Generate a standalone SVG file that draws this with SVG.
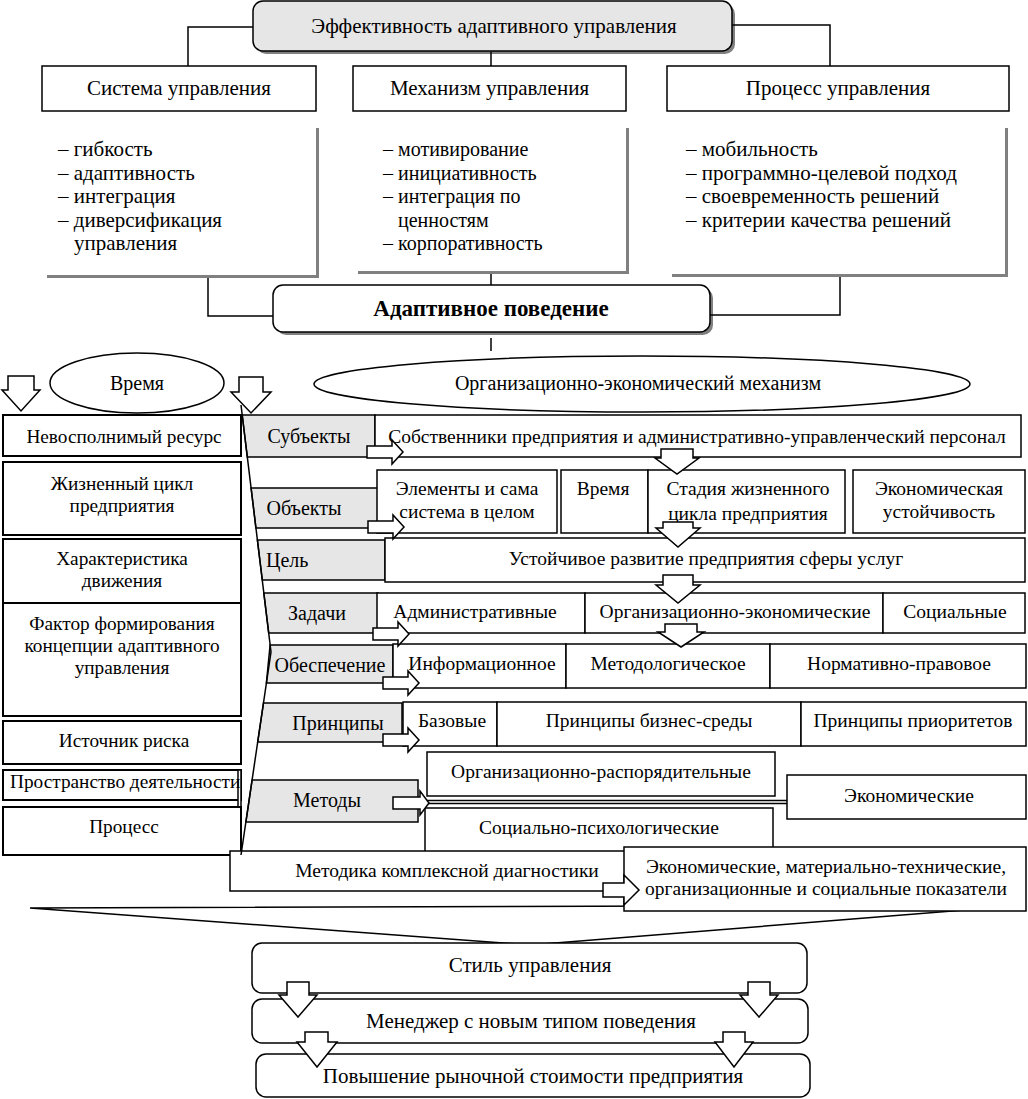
<svg xmlns="http://www.w3.org/2000/svg" width="1028" height="1099" viewBox="0 0 1028 1099">
<style>
.bx{fill:#fff;stroke:#000;stroke-width:1.5}
.bk{fill:#fff;stroke:#000;stroke-width:2}
.gr{fill:#e6e6e6;stroke:#000;stroke-width:1.5}
.sh{fill:#808080}
.ln{fill:none;stroke:#000;stroke-width:1.5}
.ar{fill:#fff;stroke:#000;stroke-width:1.5;stroke-linejoin:miter}
text{font-family:'Liberation Serif','Times New Roman',serif;fill:#000}
.c{text-anchor:middle}
.f21{font-size:21px}
.f20{font-size:20px}
.f19{font-size:19.5px}
.f18{font-size:19.3px}
.fl{font-size:21px}
.b{font-weight:bold;font-size:23px}
</style>
<rect width="1028" height="1099" fill="#fff"/>

<g id="funnel"><polygon class="bx" points="30,908 1026,905 530,945"/></g>

<g id="title">
<rect class="sh" x="256" y="4" width="479" height="50" rx="10"/>
<rect x="253" y="1" width="479" height="50" rx="10" fill="#e6e6e6" stroke="#000" stroke-width="1.5"/>
<text class="c f21" x="494" y="33">Эффективность адаптивного управления</text>
</g>
<g id="sys"><rect class="bx" x="42" y="66" width="274" height="45"/><text class="c f21" x="179" y="95">Система управления</text></g>
<g id="mech"><rect class="bx" x="353" y="66" width="273" height="45"/><text class="c f21" x="489.5" y="95">Механизм управления</text></g>
<g id="proc"><rect class="bx" x="667" y="66" width="342" height="45"/><text class="c f21" x="838" y="95">Процесс управления</text></g>

<g id="list-sys">
<rect class="sh" x="47" y="128" width="272" height="150"/>
<rect x="44" y="125" width="272" height="150" fill="#fff"/>
<text class="fl" x="58" y="156">– гибкость</text>
<text class="fl" x="58" y="180">– адаптивность</text>
<text class="fl" x="58" y="203">– интеграция</text>
<text class="fl" x="58" y="227">– диверсификация</text>
<text class="fl" x="74" y="250">управления</text>
</g>
<g id="list-mech">
<rect class="sh" x="358" y="128" width="271" height="146"/>
<rect x="355" y="125" width="271" height="146" fill="#fff"/>
<text class="f20" x="383" y="156">– мотивирование</text>
<text class="f20" x="383" y="180">– инициативность</text>
<text class="f20" x="383" y="203">– интеграция по</text>
<text class="f20" x="398" y="227">ценностям</text>
<text class="f20" x="383" y="250">– корпоративность</text>
</g>
<g id="list-proc">
<rect class="sh" x="672" y="128" width="336" height="149"/>
<rect x="669" y="125" width="336" height="149" fill="#fff"/>
<text class="fl" x="686" y="156">– мобильность</text>
<text class="fl" x="686" y="180">– программно-целевой подход</text>
<text class="fl" x="686" y="203">– своевременность решений</text>
<text class="fl" x="686" y="227">– критерии качества решений</text>
</g>

<g id="adaptive">
<rect class="sh" x="276" y="288" width="437" height="47" rx="10"/>
<rect class="bx" x="273" y="285" width="437" height="47" rx="10"/>
<text class="c b" x="491" y="316">Адаптивное поведение</text>
</g>

<g id="time"><ellipse class="bx" cx="137" cy="383" rx="87" ry="30"/><text class="c f20" x="137" y="390">Время</text></g>
<g id="oem"><ellipse class="bx" cx="642" cy="384" rx="328" ry="28"/><text class="c f20" x="638" y="390">Организационно-экономический механизм</text></g>

<g id="left-col">
<g id="l1"><rect class="bk" x="3" y="415" width="238" height="41"/><text class="c f18" x="124" y="443">Невосполнимый ресурс</text></g>
<g id="l2"><rect class="bk" x="3" y="462" width="238" height="73"/><text class="c f18" x="122" y="490">Жизненный цикл</text><text class="c f18" x="122" y="512">предприятия</text></g>
<g id="l3"><rect class="bk" x="3" y="539" width="238" height="64"/><text class="c f18" x="122" y="565">Характеристика</text><text class="c f18" x="122" y="587">движения</text></g>
<g id="l4"><rect class="bk" x="3" y="603" width="238" height="113"/><text class="c f18" x="122" y="630">Фактор формирования</text><text class="c f18" x="122" y="652">концепции адаптивного</text><text class="c f18" x="122" y="674">управления</text></g>
<g id="l5"><rect class="bk" x="3" y="721" width="238" height="43"/><text class="c f18" x="124" y="747">Источник риска</text></g>
<g id="l6"><rect class="bk" x="3" y="770" width="238" height="30"/><rect class="bx" x="238" y="770" width="3" height="52"/><text class="f18" x="10" y="788">Пространство деятельности</text></g>
<g id="l7"><rect class="bk" x="3" y="807" width="238" height="48"/><text class="c f18" x="124" y="833">Процесс</text></g>
</g>

<g id="labels">
<g id="g-subj"><polygon class="gr" points="242.2,415 375,415 375,457 247.3,457"/><text class="c f20" x="309" y="443">Субъекты</text></g>
<g id="g-obj"><polygon class="gr" points="251.1,488 378,488 378,528 255.9,528"/><text class="c f20" x="304" y="515">Объекты</text></g>
<g id="g-goal"><polygon class="gr" points="257.4,540 385,540 385,580 262.3,580"/><text class="f20" x="266" y="567">Цель</text></g>
<g id="g-task"><polygon class="gr" points="263.8,593 378,593 378,633 268.7,633"/><text class="c f20" x="317" y="620">Задачи</text></g>
<g id="g-supp"><polygon class="gr" points="270.1,645 393,645 393,683 266.4,683"/><text class="c f20" x="330" y="672">Обеспечение</text></g>
<g id="g-prin"><polygon class="gr" points="263.5,703 402,703 402,742 257.7,742"/><text class="c f20" x="338" y="730">Принципы</text></g>
<g id="g-meth"><polygon class="gr" points="252.1,780 418,780 418,822 245.9,822"/><text class="c f20" x="327" y="807">Методы</text></g>
</g>

<g id="right-boxes">
<g id="owners"><rect class="bx" x="375" y="415" width="646" height="42"/><text class="c f19" x="697" y="443">Собственники предприятия и административно-управленческий персонал</text></g>
<g id="elements"><rect class="bx" x="377" y="470" width="180" height="63"/><text class="c f19" x="467" y="495">Элементы и сама</text><text class="c f19" x="467" y="518">система в целом</text></g>
<g id="o-time"><rect class="bx" x="561" y="470" width="87" height="63"/><text class="c f19" x="603" y="495">Время</text></g>
<g id="stage"><rect class="bx" x="648" y="470" width="197" height="63"/><text class="c f19" x="748" y="495">Стадия жизненного</text><text class="c f19" x="748" y="520">цикла предприятия</text></g>
<g id="stab"><rect class="bx" x="853" y="470" width="172" height="63"/><text class="c f19" x="939" y="495">Экономическая</text><text class="c f19" x="939" y="518">устойчивость</text></g>
<g id="goal"><rect class="bx" x="385" y="538" width="640" height="44"/><text class="c f19" x="706" y="565">Устойчивое развитие предприятия сферы услуг</text></g>
<g id="t-adm"><rect class="bx" x="377" y="593" width="208" height="40"/><text class="c f19" x="475" y="618">Административные</text></g>
<g id="t-oe"><rect class="bx" x="585" y="593" width="298" height="40"/><text class="c f19" x="735" y="618">Организационно-экономические</text></g>
<g id="t-soc"><rect class="bx" x="883" y="593" width="142" height="40"/><text class="c f19" x="955" y="618">Социальные</text></g>
<g id="s-inf"><rect class="bx" x="393" y="644" width="173" height="44"/><text class="c f19" x="482" y="670">Информационное</text></g>
<g id="s-met"><rect class="bx" x="566" y="644" width="204" height="44"/><text class="c f19" x="668" y="670">Методологическое</text></g>
<g id="s-norm"><rect class="bx" x="770" y="644" width="256" height="44"/><text class="c f19" x="899" y="670">Нормативно-правовое</text></g>
<g id="p-base"><rect class="bx" x="403" y="702" width="94" height="44"/><text class="c f19" x="452" y="727">Базовые</text></g>
<g id="p-bus"><rect class="bx" x="497" y="702" width="304" height="44"/><text class="c f19" x="649" y="727">Принципы бизнес-среды</text></g>
<g id="p-pri"><rect class="bx" x="801" y="702" width="225" height="44"/><text class="c f19" x="913" y="727">Принципы приоритетов</text></g>
<g id="m-org"><rect class="bx" x="427" y="752" width="348" height="44"/><text class="c f19" x="601" y="778">Организационно-распорядительные</text></g>
<g id="m-eco"><rect class="bx" x="787" y="775" width="239" height="44"/><text class="c f19" x="909" y="802">Экономические</text></g>
<g id="m-soc"><rect class="bx" x="425" y="808" width="348" height="44"/><text class="c f19" x="599" y="834">Социально-психологические</text></g>
</g>

<g id="diag"><rect class="bx" x="230" y="851" width="395" height="40"/><text class="c f19" x="447" y="877">Методика комплексной диагностики</text></g>
<g id="indicators"><rect class="bx" x="624" y="847" width="402" height="64"/><text class="c f19" x="826" y="873">Экономические, материально-технические,</text><text class="c f19" x="826" y="895">организационные и социальные показатели</text></g>

<g id="style"><rect class="bx" x="252" y="943" width="555" height="50" rx="10"/><text class="c f21" x="530" y="972">Стиль управления</text></g>
<g id="manager"><rect class="bx" x="252" y="999" width="556" height="44" rx="10"/><text class="c f21" x="531" y="1028">Менеджер с новым типом поведения</text></g>
<g id="value"><rect class="bx" x="256" y="1054" width="554" height="43" rx="10"/><text class="c f21" x="533" y="1083">Повышение рыночной стоимости предприятия</text></g>

<g id="connectors">
<polyline class="ln" points="253,27 188,27 188,66"/>
<polyline class="ln" points="732,25 830,25 830,66"/>
<line class="ln" x1="491" y1="52" x2="491" y2="66"/>
<polyline class="ln" points="208,278 208,316 273,316"/>
<line class="ln" x1="491" y1="274" x2="491" y2="285"/>
<polyline class="ln" points="840,277 840,315 710,315"/>
<line class="ln" x1="491" y1="338" x2="491" y2="351"/>
<polyline class="ln" points="241,405 271,652 241,855"/>
<line class="ln" x1="420" y1="800.5" x2="787" y2="800.5"/>
<line class="ln" x1="420" y1="803.5" x2="787" y2="803.5"/>
<path class="ar" d="M8 376 H34 V390 H40 L21 411 L2 390 H8 Z"/>
<path class="ar" d="M239 377 H263 V392 H271 L251 413 L231 392 H239 Z"/>
<path class="ar" d="M661 449 H693 V458 H699 L677 474 L655 458 H661 Z"/>
<path class="ar" d="M663 522 H693 V528 H700 L678 547 L656 528 H663 Z"/>
<path class="ar" d="M663 575 H693 V585 H700 L678 603 L656 585 H663 Z"/>
<path class="ar" d="M665 624 H697 V632 H704 L681 647 L658 632 H665 Z"/>
<path class="ar" d="M367 446 H392 V440 L403 452 L392 464 V458 H367 Z"/>
<path class="ar" d="M368 521 H393 V515 L404 527 L393 539 V533 H368 Z"/>
<path class="ar" d="M373 628 H398 V622 L409 634 L398 646 V640 H373 Z"/>
<path class="ar" d="M383 677 H408 V671 L419 683 L408 695 V689 H383 Z"/>
<path class="ar" d="M383 734 H408 V728 L419 740 L408 752 V746 H383 Z"/>
<path class="ar" d="M393 797 H420 V791 L429 803 L420 815 V809 H393 Z"/>
<path class="ar" d="M603 883 H624 V875 L639 890 L624 905 V897 H603 Z"/>
<path class="ar" d="M287 982 H309 V995 H317 L298 1017 L279 995 H287 Z"/>
<path class="ar" d="M748 982 H770 V995 H778 L759 1017 L740 995 H748 Z"/>
<path class="ar" d="M305 1032 H328 V1042 H337 L317 1067 L297 1042 H305 Z"/>
<path class="ar" d="M723 1032 H745 V1042 H753 L734 1067 L715 1042 H723 Z"/>
</g>
</svg>
